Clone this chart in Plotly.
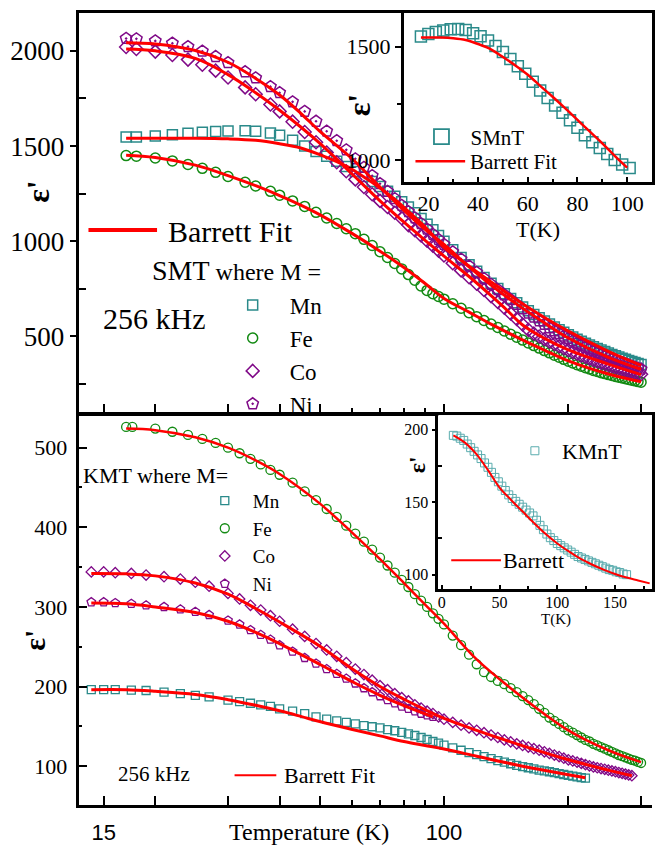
import plotly.graph_objects as go

# ---------------- SMT (top panel) data ----------------
T_smt = [17, 18, 20, 22, 24, 26, 28, 30, 33, 35, 38, 40, 43, 46, 49, 52, 55, 58, 61, 64, 67, 70, 73, 76, 79, 82, 85, 88, 91, 94, 97, 100,
         105, 110, 115, 120, 125, 130, 135, 140, 145, 150, 155, 160, 165, 170, 175, 180, 185, 190, 195, 200,
         205, 210, 215, 220, 225, 230, 235, 240, 245, 250, 255, 260, 265, 270, 275, 280, 285, 290, 295, 300]
Mn_smt = [1547, 1548, 1553, 1560, 1567, 1572, 1576, 1579, 1580, 1578, 1568, 1557, 1530, 1500, 1472, 1447, 1420, 1393, 1366, 1340, 1314, 1288, 1262, 1236, 1208, 1180, 1150, 1120, 1090, 1060, 1030, 1000,
          955, 915, 877, 842, 810, 780, 752, 725, 700, 677, 655, 635, 616, 598, 581, 565, 550, 536, 522, 509,
          497, 486, 475, 465, 455, 446, 437, 429, 421, 413, 406, 399, 392, 386, 380, 374, 368, 363, 358, 353]
Fe_smt = [1450, 1447, 1437, 1422, 1403, 1383, 1362, 1340, 1310, 1290, 1262, 1242, 1212, 1183, 1152, 1122, 1093, 1066, 1040, 1010, 978, 945, 915, 883, 855, 825, 795, 765, 742, 725, 710, 696,
          672, 648, 625, 604, 584, 565, 547, 529, 512, 496, 481, 466, 452, 439, 426, 414, 402, 391, 380, 370,
          361, 352, 344, 336, 329, 322, 316, 310, 305, 300, 295, 290, 286, 282, 278, 274, 270, 267, 263, 260]
Co_smt = [2020, 2010, 1996, 1978, 1954, 1927, 1896, 1860, 1808, 1772, 1718, 1682, 1628, 1574, 1520, 1466, 1415, 1368, 1325, 1285, 1247, 1212, 1180, 1150, 1121, 1085, 1058, 1030, 1003, 977, 951, 925,
          885, 847, 811, 777, 744, 712, 681, 651, 621, 592, 563, 535, 515, 500, 486, 473, 461, 449, 438, 428,
          418, 409, 400, 392, 384, 376, 369, 362, 356, 350, 344, 338, 333, 328, 323, 318, 314, 310, 306, 302]
Ni_smt = [2065, 2063, 2052, 2040, 2022, 1998, 1970, 1938, 1890, 1858, 1812, 1780, 1732, 1682, 1630, 1578, 1528, 1480, 1433, 1388, 1344, 1302, 1262, 1224, 1188, 1155, 1123, 1093, 1064, 1036, 1009, 983,
          944, 906, 870, 836, 804, 774, 746, 719, 694, 668, 645, 623, 602, 582, 563, 545, 529, 515, 502, 490,
          477, 465, 454, 443, 433, 423, 414, 405, 397, 389, 382, 375, 368, 362, 356, 350, 344, 339, 334, 329]

Tfit_mn_smt = [17, 20, 25, 30, 35, 40, 45, 50, 55, 60, 65, 70, 75, 80, 85, 90, 95, 100, 110, 120, 135, 150, 175, 200, 225, 250, 275, 300]
fit_mn_smt = [1541, 1541, 1541, 1538, 1530, 1512, 1490, 1455, 1418, 1377, 1328, 1280, 1230, 1178, 1126, 1075, 1020, 968, 900, 840, 762, 692, 600, 528, 470, 422, 382, 348]
Tfit_fe_smt = [17, 20, 25, 30, 35, 40, 45, 50, 60, 70, 80, 90, 100, 115, 130, 150, 175, 200, 250, 300]
fit_fe_smt = [1452, 1440, 1400, 1345, 1292, 1240, 1190, 1140, 1040, 948, 862, 778, 700, 628, 565, 497, 428, 372, 303, 262]
Tfit_co_smt = [17, 20, 25, 30, 35, 40, 45, 50, 60, 70, 80, 90, 100, 115, 130, 140, 155, 175, 200, 250, 300]
fit_co_smt = [2010, 2000, 1960, 1875, 1780, 1688, 1600, 1515, 1352, 1212, 1100, 1005, 922, 815, 715, 652, 560, 490, 430, 355, 300]
Tfit_ni_smt = [17, 20, 25, 30, 35, 40, 45, 50, 60, 70, 80, 90, 100, 115, 130, 150, 175, 200, 250, 300]
fit_ni_smt = [2043, 2036, 2002, 1940, 1855, 1768, 1672, 1578, 1432, 1285, 1162, 1062, 983, 865, 770, 670, 572, 492, 390, 328]

# ---------------- SMnT inset ----------------
T_smnt = [17, 20, 23, 26, 29, 32, 35, 38, 41, 44, 47, 50, 53, 56, 59, 62, 65, 68, 71, 74, 77, 80, 83, 86, 89, 92, 95, 98, 101]
eps_smnt = [1545, 1556, 1565, 1572, 1577, 1578, 1574, 1560, 1546, 1528, 1503, 1477, 1446, 1414, 1381, 1346, 1308, 1275, 1241, 1209, 1176, 1143, 1110, 1080, 1054, 1028, 1002, 982, 966]
Tfit_smnt = [17, 20, 25, 30, 35, 40, 45, 50, 55, 60, 65, 70, 75, 80, 85, 90, 95, 100]
fit_smnt = [1541, 1541, 1541, 1538, 1530, 1512, 1490, 1455, 1418, 1377, 1328, 1280, 1230, 1178, 1126, 1075, 1020, 968]

# ---------------- KMT (bottom panel) data ----------------
T_kmt = [14, 15, 16, 17.5, 19, 21, 23, 25, 27, 30, 32, 34, 36, 38, 40, 43, 46, 49, 52, 55, 58, 61, 64, 67, 70, 73, 76, 79, 82, 85, 88, 91, 94,
         97, 100, 105, 110, 115, 120, 125, 130, 135, 140, 145, 150, 155, 160, 165, 170, 175, 180, 185, 190, 195, 200,
         205, 210, 215, 220, 225, 230, 235, 240, 245, 250, 255, 260, 265, 270, 275, 280, 285]
Mn_kmt = [196, 196, 196, 195.5, 195, 193, 191, 189, 187, 183, 181, 179, 177, 175, 172, 169, 166, 162, 159, 157, 155, 153, 151, 149.5, 148, 146, 144.5, 142.5, 140.5, 138.5, 136, 133.5, 131,
          129, 126.5, 123, 120, 117, 114.5, 112, 109.5, 107, 105, 103, 101, 99.5, 98, 96.5, 95, 94, 93, 92, 90.5, 89.5, 88.5, 87.5, 86.5, 85.5, 85]
Co_kmt = [344, 344, 343, 342, 340, 338, 335, 331, 326, 317, 310, 302, 296, 289, 282, 272, 263, 254, 246, 238, 230, 222, 215, 208, 201, 196, 191, 186, 182, 177, 173, 169, 166,
          162, 159, 155, 151.5, 148, 145, 142, 139, 136, 133, 130.5, 128, 126, 124, 122, 120, 118, 116, 114, 112, 110, 108,
          106.5, 105, 103.5, 102, 100.5, 99, 98, 97, 96, 95, 94, 93, 92, 91, 90, 89, 88]
Ni_kmt = [306, 306, 305, 304, 302, 300, 297, 294, 290, 283, 278, 271, 265, 259, 252, 244, 236, 229, 222, 216, 210, 204, 198, 193, 188, 183, 179, 175, 172, 169, 166, 164, 162]
T_fe_kmt = [17, 17.6, 20, 22, 24, 26, 28, 30, 32, 34, 36, 38, 40, 43, 46, 49, 52, 55, 58, 61, 64, 67, 70, 73, 76, 79, 82, 85, 88, 91, 94, 97, 100,
            105, 110, 115, 120, 125, 130, 135, 140, 145, 150, 155, 160, 165, 170, 175, 180, 185, 190, 195, 200,
            205, 210, 215, 220, 225, 230, 235, 240, 245, 250, 255, 260, 265, 270, 275, 280, 285, 290, 295, 300]
Fe_kmt = [526, 526, 524, 520, 516, 511, 506, 500, 493, 486, 479, 472, 466, 456, 445, 434, 423, 413, 402, 392, 382, 372, 362, 352, 343, 334, 325, 316, 308, 300, 292, 285, 278,
          264, 252, 240, 228, 218, 212, 207, 203, 198, 193, 188, 183, 178, 172, 167, 161, 157, 153, 149, 145,
          142, 139, 136, 133, 131, 128, 126, 124, 122, 120, 118, 116, 114, 112.5, 111, 109.5, 108, 107, 105.5, 104]

Tfit_mn_kmt = [14, 17, 20, 25, 30, 35, 40, 45, 50, 60, 70, 80, 90, 100, 120, 150, 180, 220]
fit_mn_kmt = [196, 196, 194, 190, 183.5, 176.5, 169.5, 162.5, 156, 146, 138, 131, 126, 121.5, 112.5, 101.5, 93.5, 85.5]
Tfit_fe_kmt = [17, 20, 25, 30, 35, 40, 50, 60, 70, 80, 90, 100, 120, 150, 200, 250, 300]
fit_fe_kmt = [524, 522, 513, 500, 484, 467, 430, 393, 360, 330, 303, 279, 234, 192, 145, 120, 105]
Tfit_co_kmt = [14, 17, 20, 25, 30, 35, 40, 50, 60, 70, 80, 90, 100, 120, 150, 200, 250, 285]
fit_co_kmt = [342, 341.5, 339, 330, 316, 298, 281, 251, 222, 200, 184, 171, 160, 145, 128, 108, 95, 88]
Tfit_ni_kmt = [14, 17, 20, 25, 30, 35, 40, 50, 60, 70, 80, 94]
fit_ni_kmt = [305, 304, 300, 293, 282, 268, 254, 228, 206, 189, 176, 162]

# ---------------- KMnT inset ----------------
T_kmnt = [10, 13, 16, 19, 22, 25, 28, 31, 34, 37, 40, 43, 46, 49, 52, 55, 58, 61, 64, 67, 70, 73, 76, 79, 82, 85, 88, 91, 94, 97,
          100, 103, 106, 109, 112, 115, 118, 121, 124, 127, 130, 133, 136, 139, 142, 145, 148, 151, 154, 157, 160]
eps_kmnt = [196, 195.5, 194, 192.5, 190, 187.5, 185, 182.5, 180, 177, 174, 170.5, 167, 164, 161, 158, 155, 152.5, 150.5, 148.5,
            146.5, 144.5, 142.5, 140.5, 137.5, 134, 131, 128, 125.5, 123.5, 121.5, 120, 118.5, 117, 115.5, 114, 112.5, 111.5, 110.5, 109.5,
            108.5, 107.5, 106.5, 105.5, 104.5, 103.5, 103, 102, 101.5, 100.5, 100]
Tfit_kmnt = [10, 20, 30, 40, 50, 60, 70, 80, 90, 100, 110, 120, 130, 140, 150, 160, 170, 180]
fit_kmnt = [196, 191, 183, 172, 160, 151.5, 143.5, 135.5, 128, 121.5, 116, 111, 107, 103.5, 100.5, 98, 96, 94]

# tick labels
x_major = [15, 20, 30, 40, 50, 100, 200, 300]
x_labels = ["15", "", "", "", "", "100", "", ""]
x_minor = [60, 70, 80, 90]

# ---------------- styling ----------------
W, H = 655, 845
TEAL = "#2a8a8a"
GREEN = "#138a13"
PURPLE = "#800a88"
RED = "#ff0000"
LTEAL = "#5aacae"
SERIF = "Liberation Serif, Tinos, Times New Roman, DejaVu Serif, serif"
SANS = "Liberation Sans, Arimo, Arial, DejaVu Sans, sans-serif"


def px(x):
    return x / W


def py(y):
    return 1 - y / H


fig = go.Figure()


def markers(x, y, xa, ya, symbol, color, size, name, legend=None, lw=1.5):
    fig.add_trace(go.Scatter(
        x=x, y=y, xaxis=xa, yaxis=ya, mode="markers", name=name,
        marker=dict(symbol=symbol, size=size, color=color, line=dict(width=lw, color=color)),
        showlegend=legend is not None, legend=legend if legend else "legend"))


def fitline(x, y, xa, ya, width=3):
    fig.add_trace(go.Scatter(
        x=x, y=y, xaxis=xa, yaxis=ya, mode="lines", line=dict(color=RED, width=width, shape="spline"),
        showlegend=False, hoverinfo="skip"))


# top main
markers(T_smt, Mn_smt, "x", "y", "square-open", TEAL, 10, "Mn", "legend")
markers(T_smt, Fe_smt, "x", "y", "circle-open", GREEN, 10, "Fe", "legend")
markers(T_smt, Co_smt, "x", "y", "diamond-open", PURPLE, 10, "Co", "legend")
markers(T_smt, Ni_smt, "x", "y", "pentagon-open-dot", PURPLE, 12, "Ni", "legend")
fitline(Tfit_mn_smt, fit_mn_smt, "x", "y")
fitline(Tfit_fe_smt, fit_fe_smt, "x", "y")
fitline(Tfit_co_smt, fit_co_smt, "x", "y")
fitline(Tfit_ni_smt, fit_ni_smt, "x", "y")

# bottom main
markers(T_kmt[:len(Mn_kmt)], Mn_kmt, "x2", "y2", "square-open", TEAL, 8, "Mn", "legend2", 1.3)
markers(T_fe_kmt, Fe_kmt, "x2", "y2", "circle-open", GREEN, 9, "Fe", "legend2", 1.3)
markers(T_kmt[:len(Co_kmt)], Co_kmt, "x2", "y2", "diamond-open", PURPLE, 8, "Co", "legend2", 1.3)
markers(T_kmt[:len(Ni_kmt)], Ni_kmt, "x2", "y2", "pentagon-open", PURPLE, 9, "Ni", "legend2", 1.3)
fitline(Tfit_mn_kmt, fit_mn_kmt, "x2", "y2")
fitline(Tfit_fe_kmt, fit_fe_kmt, "x2", "y2", 2.5)
fitline(Tfit_co_kmt, fit_co_kmt, "x2", "y2")
fitline(Tfit_ni_kmt, fit_ni_kmt, "x2", "y2")

# top inset
markers(T_smnt, eps_smnt, "x3", "y3", "square-open", TEAL, 11, "SMnT", None)
fitline(Tfit_smnt, fit_smnt, "x3", "y3", 2.5)
fig.add_trace(go.Scatter(x=[None], y=[None], xaxis="x3", yaxis="y3", mode="markers", name="SMnT",
                         marker=dict(symbol="square-open", size=15, color=TEAL, line=dict(width=1.8)),
                         legend="legend3", showlegend=True))

# bottom inset
markers(T_kmnt, eps_kmnt, "x4", "y4", "square-open", LTEAL, 8, "KMnT", "legend4", 1)
fitline(Tfit_kmnt, fit_kmnt, "x4", "y4", 2)

axis_common = dict(showline=True, linecolor="black", linewidth=2.5, showgrid=False, zeroline=False,
                   tickcolor="black", tickwidth=2)
xr = [1.1152, 2.5036]

fig.update_layout(
    width=W, height=H, margin=dict(l=0, r=0, t=0, b=0),
    paper_bgcolor="white", plot_bgcolor="white",
    font=dict(family=SERIF, color="black"),
    xaxis=dict(domain=[px(78), 1], type="log", range=xr, anchor="y", mirror=True,
               ticks="inside", ticklen=9, tickmode="array", tickvals=x_major, showticklabels=False,
               minor=dict(tickmode="array", tickvals=x_minor, ticks="inside", ticklen=5, tickwidth=2, tickcolor="black"),
               **axis_common),
    yaxis=dict(domain=[py(415), py(13)], range=[98, 2199], anchor="x",
               tickmode="array", tickvals=[500, 1000, 1500, 2000], ticks="outside", ticklen=6,
               tickfont=dict(family=SERIF, size=27, color="black"),
               minor=dict(tickmode="array", tickvals=[250, 750, 1250, 1750], ticks="inside", ticklen=8, tickwidth=2, tickcolor="black"),
               **axis_common),
    xaxis2=dict(domain=[px(78), 1], type="log", range=xr, anchor="y2", mirror=True,
                ticks="inside", ticklen=9, tickmode="array", tickvals=x_major, ticktext=x_labels,
                tickfont=dict(family=SANS, size=22, color="black"), ticklabelstandoff=6,
                minor=dict(tickmode="array", tickvals=x_minor, ticks="inside", ticklen=5, tickwidth=2, tickcolor="black"),
                **axis_common),
    yaxis2=dict(domain=[py(809), py(417)], range=[51, 541], anchor="x2",
                tickmode="array", tickvals=[100, 200, 300, 400, 500], ticks="inside", ticklen=9,
                tickfont=dict(family=SERIF, size=22, color="black"), ticklabelstandoff=4,
                minor=dict(tickmode="array", tickvals=[150, 250, 350, 450], ticks="inside", ticklen=4, tickwidth=2, tickcolor="black"),
                **axis_common),
    xaxis3=dict(domain=[px(405), 1], range=[10, 110], anchor="y3", mirror=True,
                tickmode="array", tickvals=[20, 40, 60, 80, 100], ticks="inside", ticklen=5,
                tickfont=dict(family=SERIF, size=22, color="black"),
                minor=dict(tickmode="array", tickvals=[30, 50, 70, 90], ticks="inside", ticklen=3, tickwidth=2, tickcolor="black"),
                **axis_common),
    yaxis3=dict(domain=[py(183), py(13)], range=[904, 1649], anchor="x3", mirror=True,
                tickmode="array", tickvals=[1000, 1500], ticks="outside", ticklen=6,
                tickfont=dict(family=SERIF, size=22, color="black"),
                minor=dict(tickmode="array", tickvals=[1250], ticks="outside", ticklen=4, tickwidth=2, tickcolor="black"),
                **axis_common),
    xaxis4=dict(domain=[px(440), 1], range=[-3, 182], anchor="y4", mirror=True,
                tickmode="array", tickvals=[0, 50, 100, 150], ticks="inside", ticklen=4,
                tickfont=dict(family=SERIF, size=16, color="black"), ticklabelstandoff=-3,
                minor=dict(tickmode="array", tickvals=[25, 75, 125, 175], ticks="inside", ticklen=3, tickwidth=1.5, tickcolor="black"),
                **axis_common),
    yaxis4=dict(domain=[py(592), py(417)], range=[90, 210], anchor="x4", mirror=True,
                tickmode="array", tickvals=[100, 150, 200], ticks="outside", ticklen=4,
                tickfont=dict(family=SERIF, size=16, color="black"),
                minor=dict(tickmode="array", tickvals=[125, 175], ticks="inside", ticklen=4, tickwidth=1.5, tickcolor="black"),
                **axis_common),
    legend=dict(x=px(216), y=py(285), xanchor="left", yanchor="top", bgcolor="rgba(0,0,0,0)",
                font=dict(family=SERIF, size=23, color="black"), itemwidth=64, tracegroupgap=0),
    legend2=dict(x=px(197), y=py(484), xanchor="left", yanchor="top", bgcolor="rgba(0,0,0,0)",
                 font=dict(family=SERIF, size=19, color="black"), itemwidth=46, tracegroupgap=0),
    legend3=dict(x=px(414), y=py(117), xanchor="left", yanchor="top", bgcolor="rgba(0,0,0,0)",
                 font=dict(family=SERIF, size=21, color="black"), itemwidth=48),
    legend4=dict(x=px(510), y=py(432), xanchor="left", yanchor="top", bgcolor="rgba(0,0,0,0)",
                 font=dict(family=SERIF, size=22, color="black"), itemwidth=44),
)


def ann(text, x, y, size, xanchor="left", angle=0, family=SERIF):
    return dict(text=text, x=px(x), y=py(y), xref="paper", yref="paper", xanchor=xanchor, yanchor="middle",
                showarrow=False, textangle=angle, font=dict(size=size, family=family, color="black"))


annotations = [
    ann("Barrett Fit", 166, 233, 30),
    ann("<span style='font-size:28px'>SMT</span> where M =", 150, 272, 24),
    ann("256 kHz", 101, 320, 30),
    ann("<b>ε'</b>", 37, 192, 32, "center", -90),
    ann("<b>ε'</b>", 360, 105, 32, "center", -90),
    ann("T(K)", 540, 231, 22, "center"),
    ann("Barrett Fit", 470, 163, 21),
    ann("KMT where M=", 80, 478, 22),
    ann("256 kHz", 116, 778, 21),
    ann("Barrett Fit", 283, 779, 22),
    ann("<b>ε'</b>", 34, 643, 30, "center", -90),
    ann("Temperature (K)", 310, 836, 24, "center"),
    ann("<b>ε'</b>", 418, 467, 24, "center", -90),
    ann("T(K)", 558, 622, 15, "center"),
    ann("Barrett", 503, 563, 22),
]

shapes = []
for (x0, x1, y, w) in [(88, 157, 231, 4), (417, 467, 162, 2.5), (235, 277, 779, 2), (453, 503, 563, 2)]:
    shapes.append(dict(type="line", xref="paper", yref="paper", x0=px(x0), x1=px(x1), y0=py(y), y1=py(y),
                       line=dict(color=RED, width=w)))

fig.update_layout(annotations=annotations, shapes=shapes)
fig.write_html("out.html")
